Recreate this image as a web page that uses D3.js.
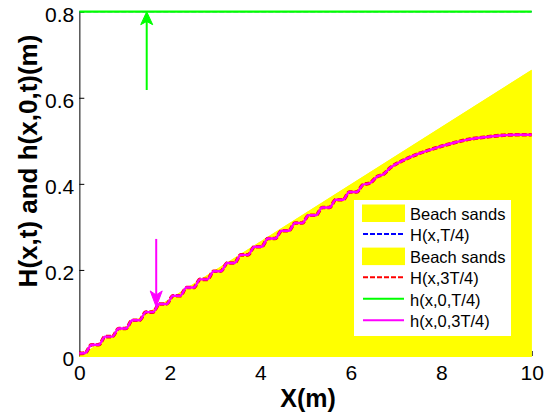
<!DOCTYPE html>
<html><head><meta charset="utf-8">
<script src="https://cdn.jsdelivr.net/npm/d3@7"></script>
<style>
html,body{margin:0;padding:0;background:#fff;}
svg{display:block;font-family:"Liberation Sans",Arial,sans-serif;}
</style></head>
<body><svg id="c" width="548" height="419"></svg>
<script>
// ---- data ----
const xTicks = [0, 2, 4, 6, 8, 10];
const yTicks = [0, 0.2, 0.4, 0.6, 0.8];
const yTickLabels = ["0", "0.2", "0.4", "0.6", "0.8"];

const beachX = [0, 10];
const beachY = [0, 0.665];

// H(x,T/4) and h(x,0,T/4): still-water level line
const levelX = [0, 10];
const levelH = [0.8, 0.8];

// H(x,3T/4) and h(x,0,3T/4): run-up profile on the beach
const waveX = [0, 0.13, 0.27, 0.43, 0.57, 0.73, 0.87, 1.03, 1.17, 1.33, 1.47, 1.63, 1.77, 1.93, 2.07, 2.23, 2.37, 2.53, 2.67, 2.83, 2.97, 3.13, 3.27, 3.43, 3.57, 3.73, 3.87, 4.03, 4.17, 4.33, 4.47, 4.63, 4.77, 4.93, 5.07, 5.23, 5.37, 5.53, 5.67, 5.83, 5.97, 6.13, 6.27, 6.43, 6.57, 6.73, 6.87, 7.17, 7.5, 7.9, 8.3, 8.64, 9.0, 9.38, 9.7, 10];
const waveH = [0.006, 0.007, 0.026, 0.026, 0.045, 0.045, 0.064, 0.064, 0.083, 0.083, 0.102, 0.102, 0.121, 0.121, 0.140, 0.140, 0.159, 0.159, 0.178, 0.178, 0.197, 0.197, 0.216, 0.216, 0.235, 0.235, 0.254, 0.254, 0.273, 0.273, 0.291, 0.291, 0.309, 0.309, 0.327, 0.327, 0.345, 0.345, 0.363, 0.363, 0.381, 0.381, 0.398, 0.402, 0.416, 0.423, 0.437, 0.455, 0.470, 0.484, 0.496, 0.504, 0.509, 0.513, 0.514, 0.514];

// annotation arrows [x, from, to]
const arrowT4 = [1.49, 0.618, 0.8];
const arrow3T4 = [1.70, 0.272, 0.114];

const legendLabels = ["Beach sands", "H(x,T/4)", "Beach sands", "H(x,3T/4)", "h(x,0,T/4)", "h(x,0,3T/4)"];

// ---- layout ----
const svg = d3.select("#c");
const x = d3.scaleLinear().domain([0, 10]).range([79.3, 531.7]);
const y = d3.scaleLinear().domain([0, 0.8]).range([356, 11.7]);

// x axis (under the sand)
const xAxis = svg.append("g").attr("transform", `translate(0,${y(0)})`)
  .call(d3.axisBottom(x).tickValues(xTicks).tickFormat(d3.format("d")).tickSize(-5).tickPadding(9));
xAxis.select(".domain").remove();
xAxis.selectAll("text").attr("font-size", 21).attr("font-family", "Liberation Sans, Arial, sans-serif").attr("fill", "#000");

// beach sands
const beachPts = beachX.map((d, i) => [d, beachY[i]]);
const area = d3.area().x(d => x(d[0])).y0(y(0) + 1).y1(d => y(d[1]));
svg.append("path").datum(beachPts).attr("d", area).attr("fill", "#ffff00");

// y axis
const yAxis = svg.append("g").attr("transform", `translate(${x(0)},0)`)
  .call(d3.axisLeft(y).tickValues(yTicks).tickFormat((d, i) => yTickLabels[i]).tickSize(-5).tickSizeOuter(0).tickPadding(5));
yAxis.select(".domain").attr("stroke", "#555").attr("stroke-width", 1.5);
yAxis.selectAll(".tick line").attr("stroke", "#000");
yAxis.selectAll("text").attr("font-size", 21).attr("dy", "0.45em").attr("font-family", "Liberation Sans, Arial, sans-serif").attr("fill", "#000");

const line = d3.line().x(d => x(d[0])).y(d => y(d[1]));
const lineM = d3.line().x(d => x(d[0])).y(d => y(d[1])).curve(d3.curveMonotoneX);
const levelPts = levelX.map((d, i) => [d, levelH[i]]);
const wavePts = waveX.map((d, i) => [d, waveH[i]]);

// H(x,T/4) blue dashed (hidden below the green line)
svg.append("path").datum(levelPts).attr("d", line).attr("fill", "none")
  .attr("stroke", "#0000ff").attr("stroke-width", 1.2).attr("stroke-dasharray", "5,2");
// second beach sands (same region)
svg.append("path").datum(beachPts).attr("d", area).attr("fill", "#ffff00");
// H(x,3T/4) red dashed
svg.append("path").datum(wavePts).attr("d", lineM).attr("fill", "none")
  .attr("stroke", "#ff0000").attr("stroke-width", 3.6).attr("stroke-dasharray", "5,2");
// h(x,0,T/4) green
svg.append("path").datum(levelPts).attr("d", line).attr("fill", "none")
  .attr("stroke", "#00ff00").attr("stroke-width", 2.2);
// h(x,0,3T/4) magenta
svg.append("path").datum(wavePts).attr("d", lineM).attr("fill", "none")
  .attr("stroke", "#ff00ff").attr("stroke-width", 2.4);

// arrows
function arrow(a, color, hl, hw) {
  const ax = x(a[0]), y0 = y(a[1]), y1 = y(a[2]);
  const dir = y1 < y0 ? 1 : -1; // 1 => pointing up
  svg.append("line").attr("x1", ax).attr("x2", ax).attr("y1", y0).attr("y2", y1 + dir * hl * 0.6)
    .attr("stroke", color).attr("stroke-width", 2);
  const p = d3.path();
  p.moveTo(ax, y1);
  p.lineTo(ax - hw / 2, y1 + dir * hl);
  p.lineTo(ax, y1 + dir * hl * 0.75);
  p.lineTo(ax + hw / 2, y1 + dir * hl);
  p.closePath();
  svg.append("path").attr("d", p.toString()).attr("fill", color).attr("stroke", color).attr("stroke-width", 1);
}
arrow(arrowT4, "#00ff00", 13, 12);
arrow(arrow3T4, "#ff00ff", 16, 12);

// legend
const lg = svg.append("g");
lg.append("rect").attr("x", 354).attr("y", 200).attr("width", 157).attr("height", 136).attr("fill", "#fff");
const rowY = d3.range(legendLabels.length).map(i => 213.5 + i * 21.55);
const styles = [
  {type: "patch"},
  {type: "line", color: "#0000ff", dash: "5,2"},
  {type: "patch"},
  {type: "line", color: "#ff0000", dash: "5,2"},
  {type: "line", color: "#00ff00", dash: null},
  {type: "line", color: "#ff00ff", dash: null}
];
legendLabels.forEach((lab, i) => {
  const cy = rowY[i];
  const s = styles[i];
  if (s.type === "patch") {
    lg.append("rect").attr("x", 362).attr("y", cy - 9).attr("width", 43).attr("height", 17.5).attr("fill", "#ffff00");
  } else {
    lg.append("line").attr("x1", 363).attr("x2", 404).attr("y1", cy - 1).attr("y2", cy - 1)
      .attr("stroke", s.color).attr("stroke-width", 2).attr("stroke-dasharray", s.dash);
  }
  lg.append("text").attr("x", 410).attr("y", cy + 6).attr("font-size", 16.5).attr("fill", "#000").text(lab);
});

// axis labels
svg.append("text").attr("x", 308).attr("y", 407).attr("text-anchor", "middle")
  .attr("font-size", 25).attr("font-weight", "bold").text("X(m)");
svg.append("text").attr("transform", "translate(37,161) rotate(-90)").attr("text-anchor", "middle")
  .attr("font-size", 26).attr("font-weight", "bold").text("H(x,t) and h(x,0,t)(m)");
</script>
</body></html>
